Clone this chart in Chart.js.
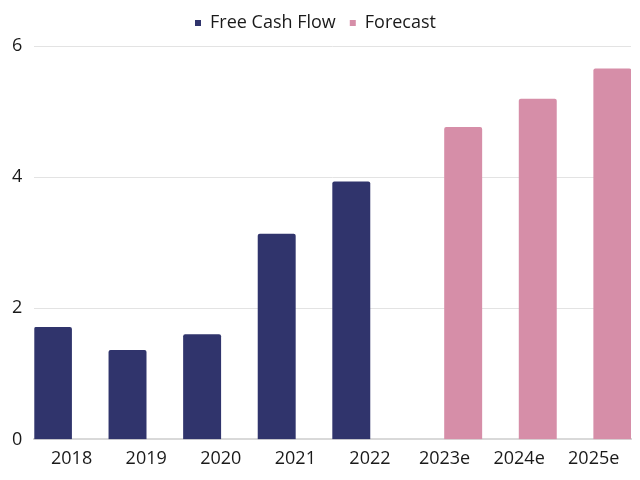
<!DOCTYPE html>
<html>
<head>
<meta charset="utf-8">
<script src="https://cdn.jsdelivr.net/npm/chart.js@4/dist/chart.umd.min.js"></script>
<style>
  html, body { margin: 0; padding: 0; background: #fff; }
  #wrap { width: 640px; height: 480px; }
</style>
</head>
<body>
<div id="wrap"><canvas id="myChart" width="640" height="480"></canvas></div>
<script>
// categorias y valores
var years = ['2018', '2019', '2020', '2021', '2022', '2023e', '2024e', '2025e'];
var cashFlow = [1.71, 1.36, 1.6, 3.13, 3.93, null, null, null];
var forecast = [null, null, null, null, null, 4.76, 5.19, 5.65];
var yTicks = [0, 2, 4, 6];

// espacio extra debajo de la leyenda
var legendGap = {
    id: 'legendGap',
    afterInit: function (chart) {
        var fit = chart.legend.fit;
        chart.legend.fit = function () {
            fit.call(this);
            this.height += 4;
        };
    }
};

var ctx = document.getElementById('myChart').getContext('2d');
var myChart = new Chart(ctx, {
    type: 'bar',
    data: {
        labels: years,
        datasets: [{
            label: 'Free Cash Flow',
            data: cashFlow,
            backgroundColor: '#30346c',
            borderRadius: 2,
            borderSkipped: 'bottom'
        }, {
            label: 'Forecast',
            data: forecast,
            backgroundColor: '#d68ea8',
            borderRadius: 2,
            borderSkipped: 'bottom'
        }]
    },
    plugins: [legendGap],
    options: {
        responsive: false,
        animation: false,
        categoryPercentage: 1,
        barPercentage: 1,
        layout: { padding: { right: 9, top: 0, bottom: 9 } },
        plugins: {
            legend: {
                position: 'top',
                labels: {
                    boxWidth: 6,
                    boxHeight: 6,
                    padding: 14,
                    color: '#1a1a1a',
                    font: { family: 'Open Sans', size: 18 }
                }
            },
            tooltip: { enabled: false }
        },
        scales: {
            x: {
                grid: { display: false },
                border: { color: '#d9d9d9', width: 2 },
                ticks: {
                    color: '#1a1a1a',
                    padding: 1,
                    font: { family: 'Open Sans', size: 18 }
                }
            },
            y: {
                min: 0,
                max: yTicks[yTicks.length - 1],
                afterBuildTicks: function (axis) {
                    axis.ticks = yTicks.map(function (v) { return { value: v }; });
                },
                grid: { color: '#e3e3e3', drawTicks: false },
                border: { display: false },
                ticks: {
                    color: '#1a1a1a',
                    padding: 12,
                    font: { family: 'Open Sans', size: 18 }
                }
            }
        }
    }
});
</script>
</body>
</html>
